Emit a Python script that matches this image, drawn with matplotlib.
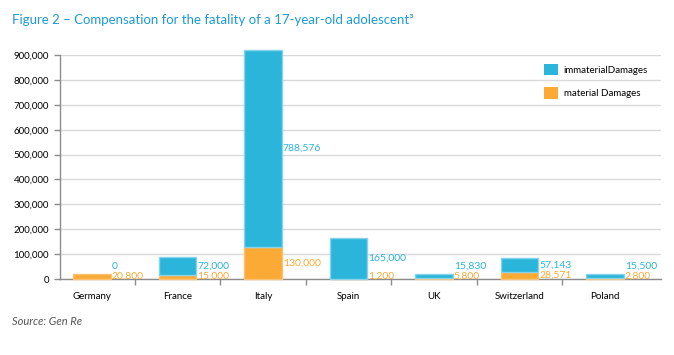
import matplotlib.pyplot as plt
import numpy as np
from matplotlib.patches import Patch
from matplotlib.ticker import FuncFormatter

countries = ["Germany", "France", "Italy", "Spain", "UK", "Switzerland", "Poland"]
material = [20800, 15000, 130000, 1200, 5800, 28571, 2800]
immaterial = [0, 72000, 788576, 165000, 15830, 57143, 15500]

BLUE = "#2BB5DA"
ORANGE = "#FBAA36"
TITLE_BLUE = "#1E9AD3"
GRID = "#D9D9D9"
AXIS = "#8C8C8C"

plt.rcParams["font.family"] = ["Lato", "DejaVu Sans"]

fig = plt.figure(figsize=(6.74, 3.55), dpi=100)
ax = fig.add_axes([0.089, 0.214, 0.892, 0.631])

x = np.arange(len(countries))
width = 0.44
mat = np.array(material)
imm = np.array(immaterial)

ax.bar(x, mat, width, color=ORANGE, edgecolor="#FCC273", linewidth=1.0, zorder=3, clip_on=False)
# no outline on empty segments (Germany has no immaterial damages)
imm_lw = [1.0 if v > 0 else 0 for v in imm]
ax.bar(x, imm, width, bottom=mat, color=BLUE, edgecolor="#86D4EB", linewidth=imm_lw,
       zorder=3, clip_on=False)

# value labels to the right of each bar; pushed apart where segments are thin
for xi, m, im in zip(x, mat, imm):
    y_mat = max(m / 2, 11000)
    y_imm = max(m + im / 2, y_mat + 41000)
    ax.text(xi + width / 2 + 0.01, y_mat, f"{m:,}", color=ORANGE, fontsize=7.5,
            ha="left", va="center", zorder=4)
    ax.text(xi + width / 2 + 0.01, y_imm, f"{im:,}", color=BLUE, fontsize=7.5,
            ha="left", va="center", zorder=4)

ax.set_xlim(-0.374, 6.655)
ax.set_ylim(0, 900000)
ax.set_yticks(np.arange(0, 900001, 100000))
ax.yaxis.set_major_formatter(FuncFormatter(lambda v, p: f"{int(v):,}"))
ax.grid(axis="y", color=GRID, linewidth=1, zorder=0)
ax.set_axisbelow(True)

ax.set_xticks(x)
ax.set_xticklabels(countries)
ax.set_xticks(x[:-1] + 0.5, minor=True)
ax.tick_params(axis="x", which="major", length=0, pad=9, labelsize=7, colors="black")
ax.tick_params(axis="x", which="minor", length=4, width=1, color=AXIS)
ax.tick_params(axis="y", length=4, width=1, color=AXIS, pad=4, labelsize=7, labelcolor="black")

for side in ("top", "right"):
    ax.spines[side].set_visible(False)
for side in ("left", "bottom"):
    ax.spines[side].set_color(AXIS)
    ax.spines[side].set_linewidth(1)

handles = [Patch(facecolor=BLUE, label="immaterialDamages"),
           Patch(facecolor=ORANGE, label="material Damages")]
ax.legend(handles=handles, loc="upper left", bbox_to_anchor=(0.79, 1.0), frameon=False,
          fontsize=7, handlelength=1.45, handleheight=1.45, labelspacing=1.2, handletextpad=0.6)

fig.text(0.018, 0.945, "Figure 2 \u2013 Compensation for the fatality of a 17-year-old adolescent\u00b3",
         color=TITLE_BLUE, fontsize=9.5, ha="left", va="center")
fig.text(0.018, 0.093, "Source: Gen Re", color="#555555", fontsize=8, style="italic",
         ha="left", va="center")

fig.savefig("out.png", dpi=100)
